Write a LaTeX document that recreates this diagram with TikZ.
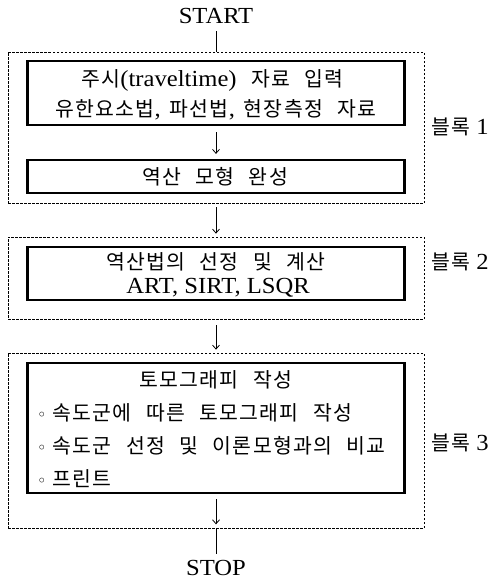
\documentclass[tikz,border=0pt]{standalone}
\usepackage{fontspec}
\setmainfont{Liberation Serif}[FakeStretch=1.07]
\newfontfamily\kr{Noto Sans CJK KR}[Scale=0.89,LetterSpace=6,WordSpace=2.5]
\newfontfamily\dv{DejaVu Sans}
\newcommand\bul{{\dv\fontsize{16}{18}\selectfont ◦}\hspace{6pt}}
\usetikzlibrary{arrows.meta}
\begin{document}
\begin{tikzpicture}[x=1pt,y=-1pt,
  solidbox/.style={draw, line width=2.2pt, inner sep=0pt, minimum width=377pt},
  dashbox/.style={draw, line width=0.7pt, dash pattern=on 2.5pt off 1.5pt, inner sep=0pt, minimum width=416pt},
  txt/.style={inner sep=0pt, font=\fontsize{23}{26}\selectfont},
  conn/.style={line width=0.8pt},
  arr/.style={conn, -{Straight Barb[length=4pt,width=7pt]}}]
\useasboundingbox (0,0) rectangle (492,581);
% block 1
\node[dashbox, minimum height=151pt] (d1) at (216,127.5) {};
\node[solidbox, minimum height=64pt] (b1) at (216,93) {};
\node[solidbox, minimum height=33pt] (b1b) at (216,176.5) {};
\node[txt] (t11) at (212.5,80) {{\kr 주시}(traveltime){\kr\ 자료 입력}};
\node[txt] (t12) at (216,110) {{\kr 유한요소법},\hspace{9pt}{\kr 파선법},\hspace{9pt}{\kr 현장측정 자료}};
\node[txt] (t13) at (215,177) {{\kr 역산 모형 완성}};
\node[txt, anchor=west] (l1) at (431,127) {{\kr 블록}\ 1};
% block 2
\node[dashbox, minimum height=82pt] (d2) at (216,278) {};
\node[solidbox, minimum height=53pt] (b2) at (216,273.5) {};
\node[txt] (t21) at (216,262) {{\kr 역산법의 선정 및 계산}};
\node[txt] (t22) at (218,288) {ART, SIRT, LSQR};
\node[txt, anchor=west] (l2) at (431,262) {{\kr 블록}\ 2};
% block 3
\node[dashbox, minimum height=175pt] (d3) at (216,440.5) {};
\node[solidbox, minimum height=130pt] (b3) at (216,428) {};
\node[txt] (t31) at (216,380) {{\kr 토모그래피 작성}};
\node[txt, anchor=west] (t32) at (37,413) {\bul{\kr 속도군에 따른 토모그래피 작성}};
\node[txt, anchor=west] (t33) at (37,446) {\bul{\kr 속도군 선정 및 이론모형과의 비교}};
\node[txt, anchor=west] (t34) at (37,479) {\bul{\kr 프린트}};
\node[txt, anchor=west] (l3) at (431,443) {{\kr 블록}\ 3};
% start / stop
\node[txt] (start) at (216,15.5) {START};
\node[txt] (stop) at (216,568) {STOP};
% connectors
\draw[conn, shorten <=8pt] (start.south) -- (d1.north);
\draw[arr, shorten <=6pt, shorten >=5pt] (b1.south) -- (b1b.north);
\draw[arr, shorten <=4pt, shorten >=3pt] (d1.south) -- (d2.north);
\draw[arr, shorten <=6pt, shorten >=3pt] (d2.south) -- (d3.north);
\draw[arr, shorten <=5pt, shorten >=4pt] (b3.south) -- (d3.south);
\draw[conn, shorten >=6pt] (d3.south) -- (stop.north);
\end{tikzpicture}
\end{document}
